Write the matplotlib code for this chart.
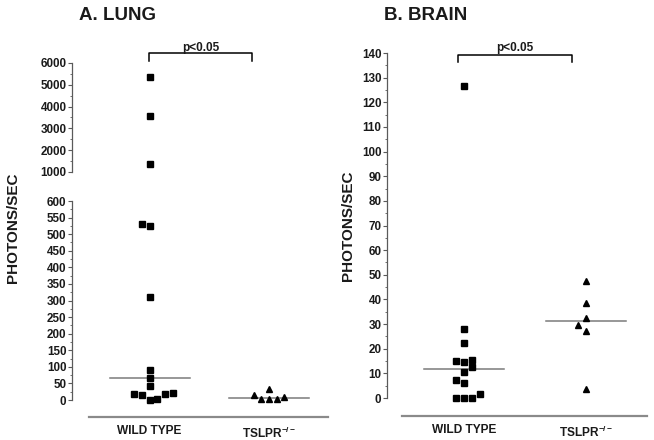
import matplotlib
matplotlib.use("Agg")
import matplotlib.pyplot as plt
import numpy as np
from matplotlib.ticker import FixedLocator
from matplotlib.lines import Line2D

plt.rcParams['font.family'] = ['Liberation Sans', 'DejaVu Sans']
plt.rcParams['mathtext.default'] = 'regular'

groups = ["WILD TYPE", "TSLPR$^{-/-}$"]

# photons/sec, lung
lung_wt = [5350, 3580, 1380, 530, 524, 310, 91, 66, 43, 17, 16, 0, 2, 17, 20]
lung_ko = [15, 4, 33, 2, 3, 9]
lung_medians = [67, 7]

# photons/sec, brain
brain_wt = [126.5, 28, 22.3, 15.1, 14.5, 15.3, 10.5, 12.4, 7.2, 6.1, 0, 0, 0, 1.8]
brain_ko = [47.3, 38.5, 32.3, 29.5, 27.3, 3.8]
brain_medians = [11.8, 31.2]

# horizontal jitter columns for overlapping points
lung_wt_col = [0, 0, 0, -1, 0, 0, 0, 0, 0, -2, -1, 0, 1, 2, 3]
lung_ko_col = [-2, -1, 0, 0, 1, 2]
brain_wt_col = [0, 0, 0, -1, 0, 1, 0, 1, -1, 0, -1, 0, 1, 2]
brain_ko_col = [0, 0, 0, -1, 0, 0]

W, H = 654, 440
fig = plt.figure(figsize=(W / 100, H / 100), dpi=100)

TXT = "#1a1a1a"
SPINE = "#5a5a5a"
BASE = "#8a8a8a"


def add_ax(left, top, right, bottom):
    return fig.add_axes([left / W, 1 - bottom / H, (right - left) / W, (bottom - top) / H])


def fx(x):
    return x / W


def fy(y):
    return 1 - y / H


def style_y(ax, lo, hi, major, minor):
    for s in ["top", "right"]:
        ax.spines[s].set_visible(False)
    ax.spines["left"].set_color(SPINE)
    ax.spines["left"].set_linewidth(0.9)
    ax.spines["left"].set_bounds(lo, hi)
    ax.yaxis.set_major_locator(FixedLocator(np.arange(lo, hi + 1e-9, major)))
    ax.yaxis.set_minor_locator(FixedLocator(np.arange(lo, hi + 1e-9, minor)))
    ax.tick_params(axis="y", which="major", length=3, width=0.8, color=SPINE, pad=1,
                   labelsize=8.4, labelcolor=TXT)
    ax.tick_params(axis="y", which="minor", length=1.5, width=0.6, color=SPINE)
    for lab in ax.get_yticklabels():
        lab.set_fontweight("bold")


def set_x(ax, left, right, c0, c1):
    unit = c1 - c0
    ax.set_xlim(-(c0 - left) / unit, 1 + (right - c1) / unit)
    return unit


def bottom_axis(ax, c0, unit, x0, x1):
    ax.spines["bottom"].set_color(BASE)
    ax.spines["bottom"].set_linewidth(1.6)
    ax.spines["bottom"].set_bounds((x0 - c0) / unit, (x1 - c0) / unit)
    ax.set_xticks([0, 1])
    ax.set_xticklabels(groups, fontsize=8.6, fontweight="bold", color=TXT)
    ax.tick_params(axis="x", length=0, pad=6)


def points(ax, vals, cols, pos, step, marker, size):
    xs = [pos + c * step for c in cols]
    ax.plot(xs, vals, linestyle="none", marker=marker, ms=size, color="black",
            mec="black", clip_on=False, zorder=3)


# ---------------- A. LUNG ----------------
A_L, A_R = 72, 330
A_C0, A_C1 = 149.5, 269
ax_up = add_ax(A_L, 63, A_R, 172)
ax_lo = add_ax(A_L, 201, A_R, 417)
unitA = set_x(ax_up, A_L, A_R, A_C0, A_C1)
set_x(ax_lo, A_L, A_R, A_C0, A_C1)
stepA = 7.7 / unitA

ax_up.set_ylim(1000, 6000)
style_y(ax_up, 1000, 6000, 1000, 500)
ax_up.spines["bottom"].set_visible(False)
ax_up.set_xticks([])

ax_lo.set_ylim(-17 * 600 / 199, 600)
style_y(ax_lo, 0, 600, 50, 25)
bottom_axis(ax_lo, A_C0, unitA, 89, 328)

for vals, cols, pos, mk, sz in [(lung_wt, lung_wt_col, 0, "s", 4.3),
                                (lung_ko, lung_ko_col, 1, "^", 4.8)]:
    hi = [(v, c) for v, c in zip(vals, cols) if v > 600]
    lo = [(v, c) for v, c in zip(vals, cols) if v <= 600]
    if hi:
        points(ax_up, [v for v, _ in hi], [c for _, c in hi], pos, stepA, mk, sz)
    points(ax_lo, [v for v, _ in lo], [c for _, c in lo], pos, stepA, mk, sz)

half = 40 / unitA
for pos, m in zip([0, 1], lung_medians):
    ax_lo.plot([pos - half, pos + half], [m, m], color="#7a7a7a", lw=1.1, zorder=2)

# ---------------- B. BRAIN ----------------
B_L, B_R = 387, 654
B_C0, B_C1 = 464, 586
ax_b = add_ax(B_L, 53, B_R, 416)
unitB = set_x(ax_b, B_L, B_R, B_C0, B_C1)
stepB = 8 / unitB
ax_b.set_ylim(-18 * 140 / 345, 140)
style_y(ax_b, 0, 140, 10, 5)
bottom_axis(ax_b, B_C0, unitB, 402, 647)

points(ax_b, brain_wt, brain_wt_col, 0, stepB, "s", 4.3)
points(ax_b, brain_ko, brain_ko_col, 1, stepB, "^", 4.8)
half = 40 / unitB
for pos, m in zip([0, 1], brain_medians):
    ax_b.plot([pos - half, pos + half], [m, m], color="#7a7a7a", lw=1.1, zorder=2)

# ---------------- text, brackets ----------------
fig.text(fx(79), fy(16), "A. LUNG", fontsize=13.5, fontweight="bold", color=TXT,
         ha="left", va="center")
fig.text(fx(384), fy(16), "B. BRAIN", fontsize=13.5, fontweight="bold", color=TXT,
         ha="left", va="center")
fig.text(fx(13), fy(228), "PHOTONS/SEC", rotation=90, fontsize=11, fontweight="bold",
         color=TXT, ha="center", va="center")
fig.text(fx(348), fy(226), "PHOTONS/SEC", rotation=90, fontsize=11, fontweight="bold",
         color=TXT, ha="center", va="center")

for x0, x1, ytop, ybot, ytxt in [(149, 252, 53, 61, 50.5), (458, 572, 55, 62, 50.5)]:
    fig.add_artist(Line2D([fx(x0), fx(x0), fx(x1), fx(x1)],
                          [fy(ybot), fy(ytop), fy(ytop), fy(ybot)],
                          color="black", lw=1.1))
    fig.text(fx((x0 + x1) / 2), fy(ytxt), "p<0.05", fontsize=8.5, fontweight="bold",
             color=TXT, ha="center", va="baseline")

fig.savefig("out.png", dpi=100)
